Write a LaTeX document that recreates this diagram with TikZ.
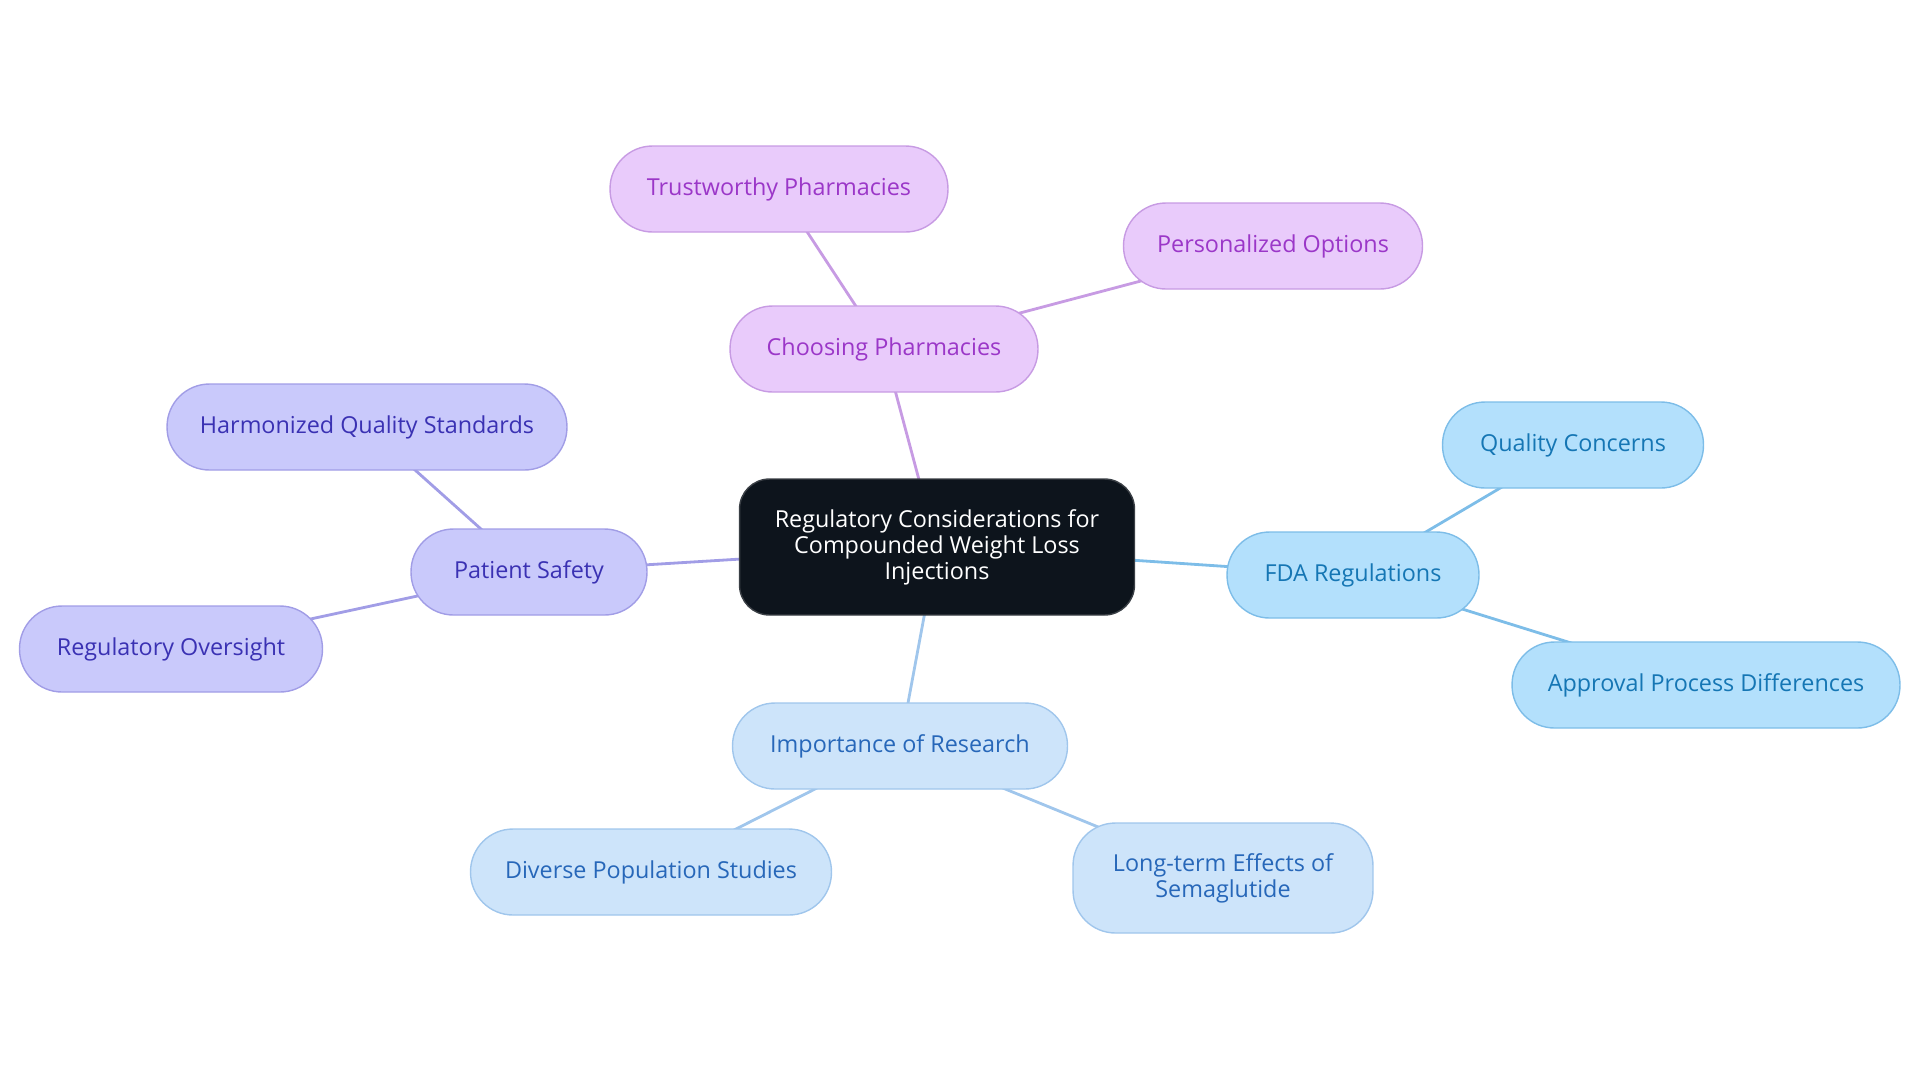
\documentclass[tikz,border=0pt]{standalone}
\usepackage{xcolor}
\usepackage{fontspec}
\setmainfont{Open Sans}
\usepackage{tikz}
\usetikzlibrary{backgrounds}

\definecolor{coreFill}{HTML}{0D141C}
\definecolor{coreLine}{HTML}{3A3F45}
\definecolor{purpleFill}{HTML}{E9CBFB}
\definecolor{purpleLine}{HTML}{C79BE3}
\definecolor{purpleText}{HTML}{9B37C8}
\definecolor{indigoFill}{HTML}{C9C9FB}
\definecolor{indigoLine}{HTML}{A19DE6}
\definecolor{indigoText}{HTML}{3A31B3}
\definecolor{skyFill}{HTML}{B3E0FC}
\definecolor{skyLine}{HTML}{7DBDE8}
\definecolor{skyText}{HTML}{1576B4}
\definecolor{paleFill}{HTML}{CDE4FA}
\definecolor{paleLine}{HTML}{A0C6EC}
\definecolor{paleText}{HTML}{2767B9}

\begin{document}
\begin{tikzpicture}[x=0.02cm, y=-0.02cm, align=center,
    font=\fontsize{13.3}{14.8}\selectfont,
    pill/.style={draw, line width=0.8pt, rounded corners=0.85cm, minimum height=1.72cm, inner sep=0pt},
    purplebox/.style={pill, fill=purpleFill, draw=purpleLine, text=purpleText},
    indigobox/.style={pill, fill=indigoFill, draw=indigoLine, text=indigoText},
    skybox/.style={pill, fill=skyFill, draw=skyLine, text=skyText},
    palebox/.style={pill, fill=paleFill, draw=paleLine, text=paleText},
    link/.style={line width=1.6pt}]

    \useasboundingbox (0,0) rectangle (1920,1083);

    \node [draw=coreLine, fill=coreFill, text=white, line width=0.8pt, rounded corners=0.6cm, minimum width=7.9cm, minimum height=2.72cm] (core) at (937,547) {Regulatory Considerations for\\Compounded Weight Loss\\Injections};

    \node [purplebox, minimum width=6.16cm] (choosing) at (884,349) {Choosing Pharmacies};
    \node [purplebox, minimum width=6.76cm] (trustworthy) at (779,189) {Trustworthy Pharmacies};
    \node [purplebox, minimum width=5.98cm] (personalized) at (1273,246) {Personalized Options};

    \node [indigobox, minimum width=4.72cm] (safety) at (529,572) {Patient Safety};
    \node [indigobox, minimum width=8.0cm] (harmonized) at (367,427) {Harmonized Quality Standards};
    \node [indigobox, minimum width=6.06cm] (oversight) at (171,649) {Regulatory Oversight};

    \node [skybox, minimum width=5.04cm] (fda) at (1353,575) {FDA Regulations};
    \node [skybox, minimum width=5.22cm] (quality) at (1573,445) {Quality Concerns};
    \node [skybox, minimum width=7.76cm] (approval) at (1706,685) {Approval Process Differences};

    \node [palebox, minimum width=6.7cm] (research) at (900,746) {Importance of Research};
    \node [palebox, minimum width=7.22cm] (diverse) at (651,872) {Diverse Population Studies};
    \node [palebox, minimum width=6.0cm, minimum height=2.2cm] (longterm) at (1223,878) {Long-term Effects of\\Semaglutide};

    \begin{scope}[on background layer]
        \draw[link, purpleLine] (core.center) -- (choosing.center);
        \draw[link, purpleLine] (choosing.center) -- (trustworthy.center);
        \draw[link, purpleLine] (choosing.center) -- (personalized.center);
        \draw[link, indigoLine] (core.center) -- (safety.center);
        \draw[link, indigoLine] (safety.center) -- (harmonized.center);
        \draw[link, indigoLine] (safety.center) -- (oversight.center);
        \draw[link, skyLine] (core.center) -- (fda.center);
        \draw[link, skyLine] (fda.center) -- (quality.center);
        \draw[link, skyLine] (fda.center) -- (approval.center);
        \draw[link, paleLine] (core.center) -- (research.center);
        \draw[link, paleLine] (research.center) -- (diverse.center);
        \draw[link, paleLine] (research.center) -- (longterm.center);
    \end{scope}

\end{tikzpicture}
\end{document}
